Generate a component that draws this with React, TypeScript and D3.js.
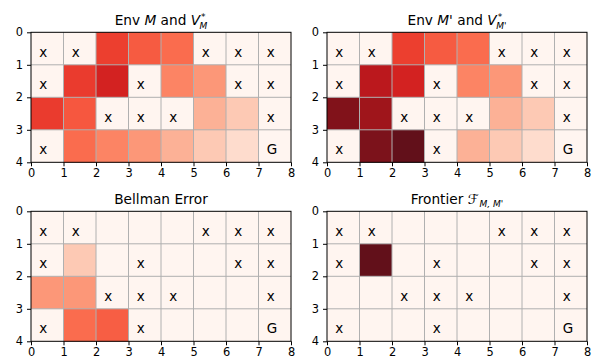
import React, { useEffect, useRef } from 'react';
import * as d3 from 'd3';

// grid marks: x = wall, G = goal, . = free
const marksM = ['xx...xxx', 'x..x..xx', '..xxx..x', 'x......G'];
const marksMp = ['xx...xxx', 'x..x..xx', '..xxx..x', 'x..x...G'];

// colour level (0..1 on the Reds map)
const valuesM = [
  [0, 0, 0.62, 0.54, 0.49, 0, 0, 0],
  [0, 0.63, 0.72, 0, 0.42, 0.36, 0, 0],
  [0.63, 0.55, 0, 0, 0, 0.28, 0.2, 0],
  [0, 0.49, 0.42, 0.36, 0.28, 0.2, 0.13, 0],
];
const valuesMp = [
  [0, 0, 0.62, 0.54, 0.49, 0, 0, 0],
  [0, 0.79, 0.72, 0, 0.42, 0.36, 0, 0],
  [0.93, 0.86, 0, 0, 0, 0.28, 0.2, 0],
  [0, 0.94, 1.0, 0, 0.28, 0.2, 0.13, 0],
];
const bellmanError = [
  [0, 0, 0, 0, 0, 0, 0, 0],
  [0, 0.2, 0, 0, 0, 0, 0, 0],
  [0.36, 0.36, 0, 0, 0, 0, 0, 0],
  [0, 0.49, 0.53, 0, 0, 0, 0, 0],
];
const frontier = [
  [0, 0, 0, 0, 0, 0, 0, 0],
  [0, 1.0, 0, 0, 0, 0, 0, 0],
  [0, 0, 0, 0, 0, 0, 0, 0],
  [0, 0, 0, 0, 0, 0, 0, 0],
];

const xTicks = [0, 1, 2, 3, 4, 5, 6, 7, 8];
const yTicks = [0, 1, 2, 3, 4];

type Part = { t: string; italic?: boolean; sub?: string; sup?: string };

const panels: { left: number; top: number; values: number[][]; marks: string[]; title: Part[] }[] = [
  { left: 31, top: 32.3, values: valuesM, marks: marksM,
    title: [{ t: 'Env ' }, { t: 'M', italic: true }, { t: ' and ' }, { t: 'V', italic: true, sup: '*', sub: 'M' }] },
  { left: 327, top: 32.3, values: valuesMp, marks: marksMp,
    title: [{ t: 'Env ' }, { t: "M'", italic: true }, { t: ' and ' }, { t: 'V', italic: true, sup: '*', sub: "M'" }] },
  { left: 31, top: 211.3, values: bellmanError, marks: marksMp,
    title: [{ t: 'Bellman Error' }] },
  { left: 327, top: 211.3, values: frontier, marks: marksMp,
    title: [{ t: 'Frontier ' }, { t: 'ℱ', italic: true, sub: "M, M'" }] },
];

const W = 260, H = 130;

// Reds, slightly greyed in the darkest range like the reference
const cellColor = (t: number) =>
  d3.interpolateRgb(d3.interpolateReds(t), '#505050')(Math.max(0, t - 0.75) * 0.8);

const App = () => {
  const ref = useRef<SVGSVGElement | null>(null);

  useEffect(() => {
    if (!ref.current) return;
    const svg = d3.select(ref.current);
    svg.selectAll('*').remove();

    const x = d3.scaleLinear().domain([0, 8]).range([0, W]);
    const y = d3.scaleLinear().domain([0, 4]).range([0, H]);

    panels.forEach(p => {
      const g = svg.append('g').attr('transform', `translate(${p.left},${p.top})`);

      const cells = p.values.flatMap((row, r) => row.map((v, c) => ({ r, c, v })));
      g.selectAll('rect.cell')
        .data(cells)
        .enter()
        .append('rect')
        .attr('class', 'cell')
        .attr('x', d => x(d.c))
        .attr('y', d => y(d.r))
        .attr('width', x(1) - x(0) + 0.3)
        .attr('height', y(1) - y(0) + 0.3)
        .attr('fill', d => cellColor(d.v));

      // grid
      g.selectAll('line.gx')
        .data(xTicks.slice(1, -1))
        .enter()
        .append('line')
        .attr('x1', d => x(d)).attr('x2', d => x(d))
        .attr('y1', 0).attr('y2', H)
        .attr('stroke', '#b0b0b0').attr('stroke-width', 1);
      g.selectAll('line.gy')
        .data(yTicks.slice(1, -1))
        .enter()
        .append('line')
        .attr('y1', d => y(d)).attr('y2', d => y(d))
        .attr('x1', 0).attr('x2', W)
        .attr('stroke', '#b0b0b0').attr('stroke-width', 1);

      // wall / goal marks
      const marks = p.marks.flatMap((row, r) => row.split('').map((m, c) => ({ r, c, m }))).filter(d => d.m !== '.');
      g.selectAll('text.mark')
        .data(marks)
        .enter()
        .append('text')
        .attr('x', d => x(d.c + 0.25))
        .attr('y', d => y(d.r + 0.75))
        .attr('font-size', 13.5)
        .attr('fill', '#000')
        .text(d => d.m);

      g.append('rect')
        .attr('width', W).attr('height', H)
        .attr('fill', 'none').attr('stroke', '#000').attr('stroke-width', 1);

      const xa = g.append('g')
        .attr('transform', `translate(0,${H})`)
        .call(d3.axisBottom(x).tickValues(xTicks).tickSize(4).tickPadding(3).tickFormat(d3.format('d')));
      const ya = g.append('g')
        .call(d3.axisLeft(y).tickValues(yTicks).tickSize(4).tickPadding(4).tickFormat(d3.format('d')));
      [xa, ya].forEach(a => {
        a.select('.domain').remove();
        a.selectAll('text').attr('font-size', 11.4).attr('font-family', 'DejaVu Sans').attr('fill', '#000');
        a.selectAll('line').attr('stroke', '#000');
      });

      // title
      const title = g.append('text')
        .attr('x', W / 2)
        .attr('y', -7)
        .attr('text-anchor', 'middle')
        .attr('font-size', 13.7)
        .attr('fill', '#000');
      p.title.forEach(part => {
        title.append('tspan').attr('font-style', part.italic ? 'italic' : 'normal').text(part.t);
        if (part.sup) {
          title.append('tspan').attr('font-size', 9).attr('dy', -5).attr('dx', 1).text(part.sup);
          title.append('tspan').attr('font-size', 9).attr('font-style', 'italic').attr('dx', -6).attr('dy', 9).text(part.sub!);
        } else if (part.sub) {
          title.append('tspan').attr('font-size', 9).attr('font-style', 'italic').attr('dx', 1).attr('dy', 3).text(part.sub);
        }
      });
    });
  }, []);

  return (
    <svg ref={ref} width={596} height={363}
      style={{ position: 'absolute', left: 0, top: 0, fontFamily: 'DejaVu Sans', background: '#fff' }} />
  );
};

export default App;
